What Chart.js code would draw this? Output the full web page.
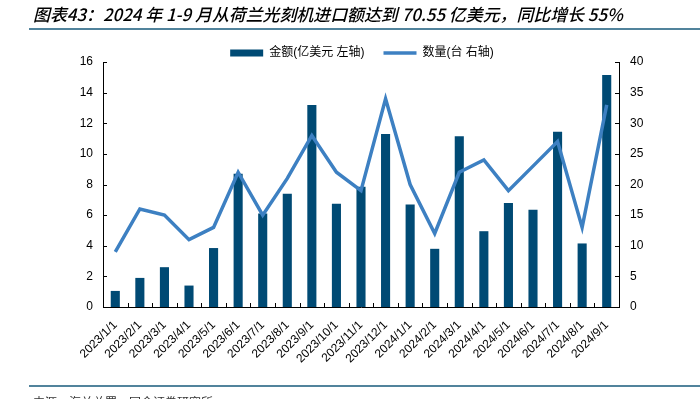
<!DOCTYPE html>
<html><head><meta charset="utf-8">
<script src="https://cdn.jsdelivr.net/npm/chart.js@4.4.0/dist/chart.umd.min.js"></script>
<style>
html,body{margin:0;padding:0;background:#fff;}
#wrap{position:relative;width:700px;height:399px;overflow:hidden;background:#fff;}
#c{position:absolute;left:0;top:0;}
#title{position:absolute;left:33px;top:1px;font-family:"Noto Sans CJK SC";font-style:italic;font-weight:500;font-size:16.9px;color:#000;white-space:nowrap;}
.rule{position:absolute;left:29px;width:671px;height:2px;background:#51839c;}
#src{position:absolute;left:33px;top:393px;font-family:"Noto Sans CJK SC";font-size:12px;color:#333;white-space:nowrap;}
</style></head><body>
<div id="wrap">
<canvas id="c" width="700" height="399"></canvas>
<div id="title">图表43：2024 年 1-9 月从荷兰光刻机进口额达到 70.55 亿美元，同比增长 55%</div>
<div class="rule" style="top:28px"></div>
<div class="rule" style="top:385px"></div>
<div id="src">来源：海关总署，国金证券研究所</div>
</div>
<script>
const categories = ['2023/1/1','2023/2/1','2023/3/1','2023/4/1','2023/5/1','2023/6/1','2023/7/1','2023/8/1','2023/9/1','2023/10/1','2023/11/1','2023/12/1','2024/1/1','2024/2/1','2024/3/1','2024/4/1','2024/5/1','2024/6/1','2024/7/1','2024/8/1','2024/9/1'];
const amountValues = [1.05,1.9,2.6,1.4,3.85,8.7,6.1,7.4,13.2,6.75,7.85,11.3,6.7,3.8,11.15,4.95,6.8,6.35,11.45,4.15,15.15];
const countValues = [9,16,15,11,13,22,15,21,28,22,19,34,20,12,22,24,19,23,27,13,33];
const leftTicks = {min:0,max:16,step:2};
const rightTicks = {min:0,max:40,step:5};
const seriesNames = ['金额(亿美元 左轴)','数量(台 右轴)'];

const FONT = '"Liberation Sans", Arial, "Noto Sans CJK SC", sans-serif';

const innerTicks = {
  id:'innerTicks',
  afterDatasetsDraw(chart){
    const {ctx, chartArea:a, scales} = chart;
    const x = scales.x, y = scales.y, y1 = scales.y1;
    ctx.save();
    ctx.strokeStyle = '#000'; ctx.lineWidth = 1;
    ctx.beginPath();
    for (let i = 1; i < categories.length; i++) {
      const px = Math.round(x.getPixelForValue(i - 0.5)) + 0.5;
      ctx.moveTo(px, a.bottom); ctx.lineTo(px, a.bottom - 4);
    }
    y.ticks.forEach(t => { const py = Math.round(y.getPixelForValue(t.value)) + 0.5; ctx.moveTo(a.left, py); ctx.lineTo(a.left + 4, py); });
    y1.ticks.forEach(t => { const py = Math.round(y1.getPixelForValue(t.value)) + 0.5; ctx.moveTo(a.right, py); ctx.lineTo(a.right - 4, py); });
    ctx.stroke();
    ctx.restore();
  }
};
const legendShift = {
  id:'legendShift',
  afterLayout(chart){ if (chart.legend) { chart.legend.top += 7; chart.legend.bottom += 7; } }
};

new Chart(document.getElementById('c'), {
  data: {
    labels: categories,
    datasets: [
      {type:'bar', label:seriesNames[0], data:amountValues, yAxisID:'y', backgroundColor:'#004a74', borderWidth:0, barPercentage:0.37, categoryPercentage:1, order:1},
      {type:'line', label:seriesNames[1], data:countValues, yAxisID:'y1', borderColor:'#3d80c2', backgroundColor:'#3d80c2', borderWidth:3.5, pointRadius:0, tension:0, order:0}
    ]
  },
  options: {
    responsive:false, animation:false,
    layout:{padding:{left:24,right:0,top:21,bottom:0}},
    plugins:{
      tooltip:{enabled:false},
      legend:{
        position:'top',
        labels:{
          font:{family:FONT,size:12}, color:'#000', padding:19,
          usePointStyle:true, pointStyleWidth:33, boxHeight:7,
          sort:(a,b)=>a.datasetIndex-b.datasetIndex,
          generateLabels(chart){
            const items = Chart.defaults.plugins.legend.labels.generateLabels(chart);
            items.forEach(it => {
              if (it.datasetIndex === 0) { it.pointStyle = 'rect'; it.lineWidth = 0; }
              else { it.pointStyle = 'line'; it.lineWidth = 3.5; }
            });
            return items;
          }
        }
      }
    },
    scales:{
      x:{
        type:'category', offset:true,
        grid:{display:false, drawTicks:false},
        border:{display:true,color:'#000',width:1},
        ticks:{autoSkip:false,minRotation:45,maxRotation:45,color:'#000',font:{family:FONT,size:12},padding:11},
        afterFit(s){ s.height = 92; }
      },
      y:{
        position:'left', min:leftTicks.min, max:leftTicks.max,
        grid:{display:false, drawTicks:false},
        border:{display:true,color:'#000',width:1},
        ticks:{stepSize:leftTicks.step,color:'#000',font:{family:FONT,size:12},padding:10},
        afterFit(s){ s.width = 79; }
      },
      y1:{
        position:'right', min:rightTicks.min, max:rightTicks.max,
        grid:{display:false, drawTicks:false},
        border:{display:true,color:'#000',width:1},
        ticks:{stepSize:rightTicks.step,color:'#000',font:{family:FONT,size:12},padding:11},
        afterFit(s){ s.width = 81; }
      }
    }
  },
  plugins:[innerTicks, legendShift]
});
</script>
</body></html>
